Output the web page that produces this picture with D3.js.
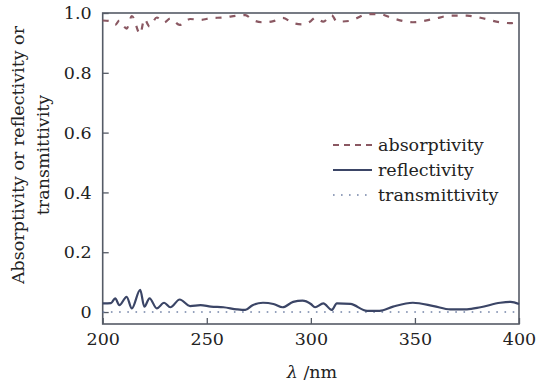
<!DOCTYPE html>
<html><head><meta charset="utf-8">
<script src="https://cdn.jsdelivr.net/npm/d3@7"></script>
<style>
html,body{margin:0;padding:0;background:#fff;}
svg{display:block;}
text{font-family:"DejaVu Serif",serif;fill:#222;}
</style></head>
<body><svg id="c" width="536" height="382"></svg>
<script>
const lambda = [200, 204, 206, 208, 211.5, 214, 218, 220, 222.5, 226, 229.5, 232.5, 237, 242, 247, 252, 258, 264.5, 268.5, 272, 277, 282, 286.5, 291.5, 296, 300, 302, 306, 310, 312.5, 319, 327, 333, 339.5, 349, 359, 367, 375, 381.5, 391, 396, 400];
const reflectivity = [0.029, 0.030, 0.046, 0.023, 0.051, 0.012, 0.074, 0.018, 0.046, 0.012, 0.031, 0.016, 0.042, 0.020, 0.023, 0.018, 0.016, 0.009, 0.007, 0.023, 0.031, 0.027, 0.016, 0.034, 0.038, 0.027, 0.016, 0.029, 0.007, 0.029, 0.027, 0.004, 0.004, 0.018, 0.031, 0.020, 0.009, 0.009, 0.016, 0.031, 0.034, 0.027];
const absorptivity = [0.975, 0.972, 0.960, 0.975, 0.948, 0.990, 0.930, 0.980, 0.955, 0.985, 0.968, 0.982, 0.960, 0.980, 0.977, 0.983, 0.985, 0.991, 0.993, 0.977, 0.969, 0.973, 0.984, 0.966, 0.962, 0.973, 0.984, 0.971, 0.993, 0.971, 0.974, 0.996, 0.996, 0.982, 0.969, 0.980, 0.991, 0.991, 0.984, 0.969, 0.966, 0.973];
const transLambda = [200, 250, 300, 350, 400];
const transmittivity = [0, 0, 0, 0, 0];
const xTicks = [200, 250, 300, 350, 400];
const yTicks = [0, 0.2, 0.4, 0.6, 0.8, 1.0];
const yTickLabels = ["0", "0.2", "0.4", "0.6", "0.8", "1.0"];
const seriesNames = ["absorptivity", "reflectivity", "transmittivity"];
const seriesColors = ["#8a5862", "#3b4566", "#7282a6"];

const svg = d3.select("#c");
const L = 102.7, R = 519, T = 13, B = 324;
const x = d3.scaleLinear().domain([200, 400]).range([L, R]);
const y = d3.scaleLinear().domain([-0.04, 1.0]).range([B, T]);

// axes (ticks inward)
const fs = "17.5px";
const xa = svg.append("g").attr("transform", `translate(0,${B})`)
  .call(d3.axisBottom(x).tickValues(xTicks).tickSizeInner(-6).tickSizeOuter(0).tickPadding(17).tickFormat(d3.format("d")));
const ya = svg.append("g").attr("transform", `translate(${L},0)`)
  .call(d3.axisLeft(y).tickValues(yTicks).tickSizeInner(-6).tickSizeOuter(0).tickPadding(11).tickFormat((d,i)=>yTickLabels[i]));
[xa, ya].forEach(g => {
  g.select(".domain").remove();
  g.selectAll(".tick line").attr("stroke", "#555b66").attr("stroke-width", 1.3);
  g.selectAll(".tick text").style("font-family", '"DejaVu Serif",serif').style("font-size", fs).attr("fill", "#222");
});
xa.selectAll(".tick text").attr("dy", "0.2em");

// frame
svg.append("rect").attr("x", L).attr("y", T).attr("width", R - L).attr("height", B - T)
  .attr("fill", "none").attr("stroke", "#555b66").attr("stroke-width", 1.6);

const line = d3.line().x(d => x(d[0])).y(d => y(d[1])).curve(d3.curveMonotoneX);

svg.append("path").datum(transLambda.map((l,i)=>[l, transmittivity[i]]))
  .attr("d", line).attr("fill", "none").attr("stroke", seriesColors[2])
  .attr("stroke-width", 1.6).attr("stroke-dasharray", "1.6,6.6");
svg.append("path").datum(lambda.map((l,i)=>[l, reflectivity[i]]))
  .attr("d", line).attr("fill", "none").attr("stroke", seriesColors[1])
  .attr("stroke-width", 2.2).attr("stroke-linejoin", "round");
svg.append("path").datum(lambda.map((l,i)=>[l, absorptivity[i]]))
  .attr("d", line).attr("fill", "none").attr("stroke", seriesColors[0])
  .attr("stroke-width", 2.2).attr("stroke-dasharray", "6,8");

// legend
const legY = [145, 170, 195];
const dashes = ["6,5", null, "1.6,6.4"];
seriesNames.forEach((n, i) => {
  const ln = svg.append("line").attr("x1", 333).attr("x2", 372).attr("y1", legY[i]).attr("y2", legY[i])
    .attr("stroke", seriesColors[i]).attr("stroke-width", i === 2 ? 1.6 : 2.2);
  if (dashes[i]) ln.attr("stroke-dasharray", dashes[i]);
  svg.append("text").attr("x", 378).attr("y", legY[i]).attr("dy", "0.32em")
    .style("font-size", fs).text(n);
});

// axis titles
svg.append("text").attr("transform", "translate(18,155) rotate(-90)").attr("text-anchor", "middle")
  .attr("dy", "0.35em").style("font-size", fs).text("Absorptivity or reflectivity or");
svg.append("text").attr("transform", "translate(43,155) rotate(-90)").attr("text-anchor", "middle")
  .attr("dy", "0.35em").style("font-size", fs).text("transmittivity");
const xt = svg.append("text").attr("x", 312).attr("y", 372).attr("text-anchor", "middle")
  .attr("dy", "0.35em").style("font-size", fs);
xt.append("tspan").style("font-style", "italic").text("λ");
xt.append("tspan").text(" /nm");
</script></body></html>
